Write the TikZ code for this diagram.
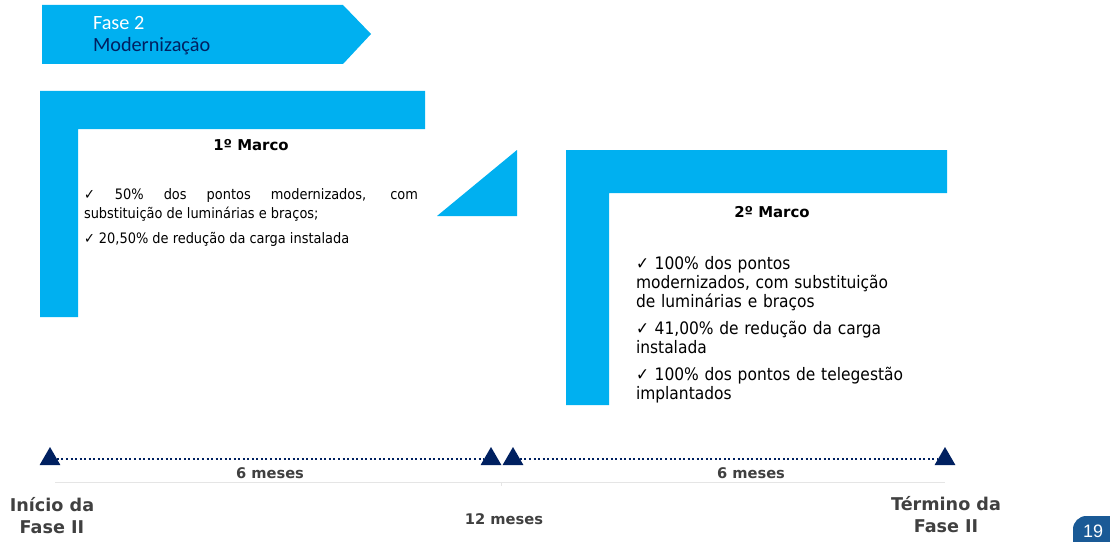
\documentclass[tikz,border=0pt]{standalone}
\usepackage{fontspec}
\setmainfont{DejaVu Sans}
\newfontfamily\bodyfont{DejaVu Sans Condensed}
\newfontfamily\bannerfont{Carlito}
\newfontfamily\badgefont{Liberation Sans}
\usetikzlibrary{shapes.geometric}
\definecolor{marcoblue}{HTML}{00B0F0}
\definecolor{navy}{HTML}{002060}
\definecolor{labelgray}{HTML}{404040}
\definecolor{badgeblue}{HTML}{1A5A96}

\begin{document}
\begin{tikzpicture}[x=0.75pt, y=-0.75pt,
  every node/.style = {inner sep=0pt, outer sep=0pt},
  milestone/.style = {regular polygon, regular polygon sides=3,
    fill=navy, minimum size=18pt},
  timeline/.style = {navy, line width=1.9pt, dash pattern=on 1.5pt off 1.9pt},
  heading/.style = {font=\bfseries\fontsize{11.2}{13}\selectfont},
  period/.style = {font=\bfseries\fontsize{11}{13}\selectfont, text=labelgray},
  endlabel/.style = {font=\bfseries\fontsize{13.2}{16.5}\selectfont,
    text=labelgray, align=center}]
\useasboundingbox (0,0) rectangle (1110,542);

% banner
\fill[marcoblue] (42,5) -- (343,5) -- (371,34) -- (343,64) -- (42,64) -- cycle;
\node[anchor=base west, text=white, font=\bannerfont\fontsize{15.2}{17}\selectfont] (fase) at (93,30) {Fase 2};
\node[anchor=base west, text=navy, font=\bannerfont\fontsize{15.2}{17}\selectfont] (modern) at (93,52) {Modernização};

% marcos
\fill[marcoblue] (40,91) -- (425,91) -- (425,129) -- (78,129) -- (78,317) -- (40,317) -- cycle;
\fill[marcoblue] (437,216) -- (517,150) -- (517,216) -- cycle;
\fill[marcoblue] (566,150) -- (947,150) -- (947,193) -- (609,193) -- (609,405) -- (566,405) -- cycle;

\node[heading, anchor=base] (marcoA) at (251,150) {1º Marco};
\node[anchor=north west, text width=250.5pt, align=justify,
  font=\bodyfont\fontsize{10.8}{14.25}\selectfont] (marcoAtext) at (84,189)
  {✓ 50\% dos pontos modernizados, com\linebreak substituição de luminárias e braços;\par
   \vspace{4.5pt}✓ 20,50\% de redução da carga instalada};

\node[heading, anchor=base] (marcoB) at (772,217) {2º Marco};
\node[anchor=north west, text width=250pt, align=left,
  font=\bodyfont\fontsize{12.9}{14.25}\selectfont] (marcoBtext) at (636,256)
  {✓ 100\% dos pontos\\ modernizados, com substituição\\ de luminárias e braços\par
   \vspace{6pt}✓ 41,00\% de redução da carga\\ instalada\par
   \vspace{6pt}✓ 100\% dos pontos de telegestão\\ implantados};

% linha do tempo
\draw[gray!20, line width=0.6pt] (55,482) -- (945,482);
\draw[gray!20, line width=0.6pt] (501,482) -- (501,486);
\node[milestone] (inicio) at (50,459) {};
\node[milestone] (meioA) at (491,459) {};
\node[milestone] (meioB) at (513,459) {};
\node[milestone] (termino) at (945,459) {};
\draw[timeline] (inicio) -- (meioA);
\draw[timeline] (meioB) -- (termino);

\node[period, anchor=base] (mesesA) at (270,478) {6 meses};
\node[period, anchor=base] (mesesB) at (751,478) {6 meses};
\node[period, anchor=base] (mesesTotal) at (504,524) {12 meses};
\node[endlabel, anchor=north] (inicioLbl) at (52,497) {Início da\\Fase II};
\node[endlabel, anchor=north] (terminoLbl) at (946,496) {Término da\\Fase II};

% pagina
\begin{scope}
  \clip (0,0) rectangle (1110,542);
  \fill[badgeblue, rounded corners=10pt] (1073,516) rectangle (1150,580);
\end{scope}
\node[text=white, font=\badgefont\fontsize{13.5}{15}\selectfont] (pagina) at (1093,531) {19};
\end{tikzpicture}
\end{document}
